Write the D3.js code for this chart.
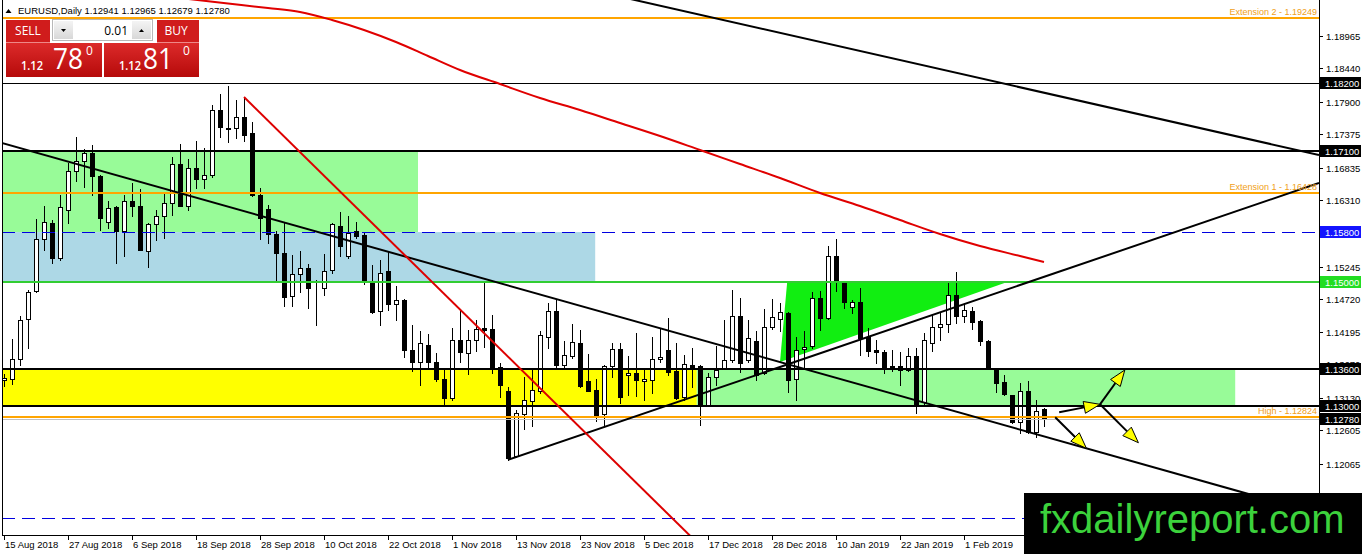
<!DOCTYPE html>
<html><head><meta charset="utf-8">
<script src="https://cdn.jsdelivr.net/npm/d3@7"></script>
<style>
html,body{margin:0;padding:0;background:#fff;overflow:hidden;}
svg{display:block;}
</style></head><body>
<svg id="c" width="1362" height="554"></svg>
<script>
// ---------- DATA ----------
const symbolTitle = "EURUSD,Daily";
const titleQuote = ["1.12941", "1.12965", "1.12679", "1.12780"];
const opens = [1.13420,1.13430,1.13753,1.14397,1.14849,1.15687,1.15945,1.15375,1.16160,1.16777,1.16938,1.17074,1.16696,1.15955,1.16203,1.15810,1.16305,1.16224,1.15488,1.15929,1.16063,1.16268,1.16896,1.16224,1.16831,1.16654,1.16724,1.17772,1.17477,1.17477,1.17654,1.17396,1.16401,1.16171,1.15773,1.15461,1.14773,1.15123,1.15220,1.14897,1.14897,1.15181,1.15890,1.15407,1.15810,1.15757,1.14978,1.14520,1.15170,1.14644,1.14709,1.13903,1.13714,1.13983,1.13698,1.13430,1.13124,1.14064,1.13859,1.14064,1.14246,1.14230,1.13624,1.13231,1.12199,1.12866,1.13070,1.13246,1.14117,1.14531,1.13661,1.13806,1.14011,1.13403,1.13258,1.12866,1.13634,1.13919,1.13500,1.13527,1.13392,1.13419,1.13753,1.13903,1.13553,1.13134,1.13661,1.13634,1.13016,1.13472,1.13607,1.13741,1.14440,1.13741,1.14037,1.13527,1.14278,1.14397,1.14494,1.13430,1.13914,1.13956,1.14736,1.14414,1.15418,1.14978,1.14600,1.14665,1.14117,1.13903,1.13865,1.13618,1.13634,1.13580,1.13795,1.13054,1.14010,1.14268,1.14322,1.14784,1.14451,1.14530,1.14359,1.14048,1.13596,1.13390,1.13177,1.12747,1.13231,1.12576,1.12941];
const highs = [1.13520,1.14075,1.14451,1.14870,1.16010,1.16213,1.16000,1.16401,1.16912,1.17332,1.17138,1.17207,1.16724,1.16294,1.16213,1.16401,1.16590,1.16493,1.15950,1.16160,1.16429,1.17009,1.17224,1.16977,1.17261,1.17154,1.17852,1.18030,1.18159,1.17933,1.17976,1.17567,1.16509,1.16241,1.15810,1.15945,1.15434,1.15488,1.15289,1.15031,1.15450,1.15950,1.16116,1.16063,1.15955,1.15780,1.15273,1.15354,1.15488,1.14934,1.14725,1.14306,1.14198,1.14161,1.13859,1.13580,1.14252,1.14547,1.14225,1.14386,1.14978,1.14467,1.13688,1.13311,1.12935,1.13472,1.13580,1.14198,1.14655,1.14709,1.14037,1.14322,1.14225,1.13838,1.13430,1.13661,1.14011,1.14011,1.13795,1.14172,1.13580,1.14107,1.14252,1.14414,1.14011,1.13822,1.13930,1.13660,1.13527,1.13967,1.14386,1.14859,1.14736,1.14386,1.14198,1.14559,1.14720,1.14655,1.14510,1.14107,1.14198,1.14827,1.14843,1.15568,1.15687,1.15004,1.14709,1.14897,1.14252,1.14064,1.13903,1.13903,1.13875,1.13930,1.13930,1.14172,1.14467,1.14494,1.14988,1.15149,1.14655,1.14591,1.14386,1.14064,1.13607,1.13500,1.13177,1.13375,1.13392,1.13097,1.12965];
const lows = [1.13320,1.13355,1.13650,1.13935,1.14833,1.15515,1.15300,1.15354,1.15945,1.16616,1.16526,1.16401,1.15837,1.15865,1.15300,1.15418,1.16052,1.15504,1.15245,1.15676,1.15703,1.16079,1.16213,1.16159,1.16509,1.16509,1.16687,1.17332,1.17245,1.17315,1.17261,1.16385,1.15687,1.15623,1.15031,1.14612,1.14612,1.14827,1.14575,1.14306,1.14789,1.15139,1.15407,1.15386,1.15708,1.14967,1.14494,1.14306,1.14547,1.14386,1.13785,1.13553,1.13338,1.13624,1.13392,1.13016,1.13086,1.13714,1.13516,1.13891,1.13946,1.13527,1.13150,1.12129,1.12183,1.12624,1.12677,1.13214,1.13930,1.13591,1.13608,1.13769,1.13311,1.13231,1.12763,1.12677,1.13472,1.13043,1.13177,1.13161,1.13097,1.13205,1.13714,1.13500,1.13108,1.13097,1.13311,1.12694,1.12989,1.13338,1.13607,1.13698,1.13537,1.13698,1.13419,1.13516,1.14236,1.14198,1.13230,1.13097,1.13607,1.13930,1.14225,1.14397,1.14843,1.14575,1.14494,1.13822,1.13795,1.13688,1.13527,1.13553,1.13338,1.13553,1.12882,1.13016,1.13891,1.14053,1.14182,1.14333,1.14343,1.14236,1.13983,1.13591,1.13230,1.13177,1.12721,1.12560,1.12560,1.12505,1.12679];
const closes = [1.13450,1.13753,1.14375,1.14838,1.15687,1.15955,1.15381,1.16203,1.16777,1.16938,1.17074,1.16696,1.16026,1.16187,1.15810,1.16294,1.16224,1.15515,1.15934,1.16063,1.16268,1.16896,1.16224,1.16831,1.16654,1.16724,1.17772,1.17493,1.17461,1.17654,1.17369,1.16401,1.16026,1.15773,1.15461,1.14752,1.15123,1.15220,1.14897,1.14902,1.15165,1.15934,1.15579,1.15784,1.15729,1.15031,1.14504,1.15139,1.14644,1.14709,1.13903,1.13714,1.14011,1.13698,1.13430,1.13124,1.14064,1.13875,1.14064,1.14241,1.14220,1.13608,1.13334,1.12157,1.12882,1.13097,1.13258,1.14144,1.14520,1.13661,1.13822,1.14027,1.13327,1.13242,1.12844,1.13634,1.13919,1.13150,1.13527,1.13408,1.13430,1.13753,1.13785,1.13537,1.13124,1.13672,1.13608,1.13016,1.13472,1.13580,1.13741,1.14440,1.13688,1.14091,1.13500,1.14278,1.14429,1.14504,1.13419,1.13903,1.13946,1.14736,1.14414,1.15418,1.15004,1.14665,1.14670,1.14091,1.13891,1.13865,1.13607,1.13645,1.13580,1.13806,1.13016,1.14064,1.14278,1.14316,1.14784,1.14440,1.14547,1.14343,1.14037,1.13607,1.13375,1.13193,1.12747,1.13231,1.12576,1.12924,1.12780];

const xTickBars = [0,8,16,24,32,40,48,56,64,72,80,88,96,104,112,120];
const xTickLabels = ["15 Aug 2018","27 Aug 2018","6 Sep 2018","18 Sep 2018","28 Sep 2018","10 Oct 2018","22 Oct 2018","1 Nov 2018","13 Nov 2018","23 Nov 2018","5 Dec 2018","17 Dec 2018","28 Dec 2018","10 Jan 2019","22 Jan 2019","1 Feb 2019"];
const yTickValues = [1.18965,1.18440,1.17900,1.17375,1.16835,1.16310,1.15245,1.14720,1.14195,1.13670,1.13130,1.12605,1.12065,1.11540];

const levelValues = [1.19249,1.18200,1.17100,1.16428,1.15800,1.15000,1.13600,1.13000,1.12824,1.12780,1.11200];
const levelTexts = ["Extension 2 - 1.19249","1.18200","1.17100","Extension 1 - 1.16428","1.15800","1.15000","1.13600","1.13000","High - 1.12824","1.12780",""];

const zoneFromBars = [-1,-1,-1,86.6];
const zoneToBars = [51.75,73.9,86.6,153.9];
const zoneTopPrices = [1.17100,1.15800,1.13600,1.13600];
const zoneBottomPrices = [1.15800,1.15000,1.13000,1.13000];

const triangleBars = [97.9,97.0,125.5];
const trianglePrices = [1.15000,1.13706,1.15000];

const trendFromBars = [0,80.5,63,30];
const trendFromPrices = [1.17226,1.19492,1.12129,1.17976];
const trendToBars = [130,164.375,164.375,77.4];
const trendToPrices = [1.12507,1.17042,1.16591,1.11966];

const maBars = [22,28,33,37,41,45,49,53,57,62,67,72,77,82,87,92,97,102,107,112,117,122,127,130];
const maValues = [1.19572,1.19484,1.19411,1.19347,1.19218,1.19057,1.18863,1.18638,1.18412,1.18186,1.17961,1.17767,1.17558,1.17348,1.17123,1.16897,1.16671,1.16430,1.16220,1.15994,1.15769,1.15575,1.15414,1.15318];

const arrowFromBars = [131.9,137.0,137.0,131.4];
const arrowFromPrices = [1.12896,1.13024,1.13024,1.12815];
const arrowToBars = [137.0,140.1,141.8,135.3];
const arrowToPrices = [1.13024,1.13577,1.12405,1.12315];

const panelLot = "0.01";
const sellBig = ["1.12","78","0"];
const buyBig = ["1.12","81","0"];
const watermarkText = "fxdailyreport.com";

// ---------- LAYOUT ----------
const plotL = 2, plotR = 1319, plotT = 0, plotB = 535;
const svg = d3.select("#c");
const x = d3.scaleLinear().domain([-0.25, 164.375]).range([plotL, plotR]);
const y = d3.scaleLinear().domain([1.10918, 1.1954]).range([plotB, plotT]);
const AX = "Liberation Sans, Arial, sans-serif";
const px = v => Math.round(v) + 0.5;

svg.append("rect").attr("width",1362).attr("height",554).attr("fill","#fff");
const defs = svg.append("defs");
defs.append("clipPath").attr("id","plot").append("rect")
  .attr("x",plotL).attr("y",plotT).attr("width",plotR-plotL).attr("height",plotB-plotT);
const g = svg.append("g").attr("clip-path","url(#plot)");

// zones
const zoneColors = ["#98fb98","#add8e6","#ffff00","#98fb98"];
g.selectAll("rect.zone").data(zoneFromBars).join("rect").attr("class","zone")
  .attr("x",(d,i)=>x(d)).attr("width",(d,i)=>x(zoneToBars[i])-x(d))
  .attr("y",(d,i)=>y(zoneTopPrices[i])).attr("height",(d,i)=>y(zoneBottomPrices[i])-y(zoneTopPrices[i]))
  .attr("fill",(d,i)=>zoneColors[i]);

// triangle
g.append("path").attr("d", d3.line()(triangleBars.map((b,i)=>[x(b),y(trianglePrices[i])])) + "Z")
  .attr("fill","#11ee11");

// candles
const idx = d3.range(opens.length);
const cg = g.append("g");
cg.selectAll("line.wick").data(idx).join("line")
  .attr("x1",i=>px(x(i))).attr("x2",i=>px(x(i)))
  .attr("y1",i=>Math.round(y(highs[i]))).attr("y2",i=>Math.round(y(lows[i]))+1)
  .attr("stroke","#000").attr("stroke-width",1);
cg.selectAll("rect.body").data(idx).join("rect")
  .attr("x",i=>px(x(i))-2).attr("width",4)
  .attr("y",i=>px(y(Math.max(opens[i],closes[i]))))
  .attr("height",i=>Math.max(0, Math.round(y(Math.min(opens[i],closes[i]))) - Math.round(y(Math.max(opens[i],closes[i])))))
  .attr("fill",i=>closes[i]>=opens[i]?"#fff":"#000")
  .attr("stroke","#000").attr("stroke-width",1);

// horizontal levels
const levelColors = ["#ffa500","#000","#000","#ffa500","#0000e0","#32cd32","#000","#000","#ffa500","#c0c0c0","#0000e0"];
const levelWidths = [2,1,2,2,1,2,2,2,2,1,1];
const levelDash = [null,null,null,null,"13,7",null,null,null,null,null,"13,7"];
levelValues.forEach((v,i)=>{
  const yy = levelWidths[i]===1 ? px(y(v)) : Math.round(y(v));
  g.append("line").attr("x1",plotL).attr("x2",plotR).attr("y1",yy).attr("y2",yy)
    .attr("stroke",levelColors[i]).attr("stroke-width",levelWidths[i])
    .attr("stroke-dasharray",levelDash[i]);
});

// trend lines
const trendColors = ["#000","#000","#000","#dd0000"];
const trendExtL = [true,true,false,false];
trendFromBars.forEach((b,i)=>{
  const x1=x(b), y1=y(trendFromPrices[i]), x2=x(trendToBars[i]), y2=y(trendToPrices[i]);
  const m=(y2-y1)/(x2-x1);
  const sx = trendExtL[i] ? plotL-20 : x1;
  const ex = plotR;
  g.append("line").attr("x1",sx).attr("y1",y1+m*(sx-x1)).attr("x2",ex).attr("y2",y1+m*(ex-x1))
    .attr("stroke",trendColors[i]).attr("stroke-width",2);
});

// moving average
g.append("path").datum(maBars.map((b,i)=>[x(b),y(maValues[i])]))
  .attr("d", d3.line().curve(d3.curveMonotoneX))
  .attr("fill","none").attr("stroke","#e00000").attr("stroke-width",2);

// arrows
arrowFromBars.forEach((b,i)=>{
  const x1=x(b), y1=y(arrowFromPrices[i]), x2=x(arrowToBars[i]), y2=y(arrowToPrices[i]);
  const dx=x2-x1, dy=y2-y1, L=Math.hypot(dx,dy), ux=dx/L, uy=dy/L;
  const hl=16, hw=6, bx=x2-ux*hl, by=y2-uy*hl;
  g.append("line").attr("x1",x1).attr("y1",y1).attr("x2",bx).attr("y2",by)
    .attr("stroke","#000").attr("stroke-width",2);
  g.append("polygon").attr("points",[[x2,y2],[bx-uy*hw,by+ux*hw],[bx+uy*hw,by-ux*hw]].map(p=>p.join(",")).join(" "))
    .attr("fill","#ffff00").attr("stroke","#000").attr("stroke-width",1);
});

// level text labels (inside plot, right aligned)
[0,3,8].forEach(i=>{
  svg.append("text").attr("x",plotR-2).attr("y",y(levelValues[i])-3)
    .attr("text-anchor","end").attr("font-family",AX).attr("font-size",9)
    .attr("fill","#f0a020").text(levelTexts[i]);
});

// frame / axes
svg.append("line").attr("x1",px(plotL)).attr("x2",px(plotL)).attr("y1",0).attr("y2",plotB).attr("stroke","#000");
svg.append("line").attr("x1",px(plotR)).attr("x2",px(plotR)).attr("y1",0).attr("y2",plotB+1).attr("stroke","#000");
svg.append("line").attr("x1",plotL).attr("x2",plotR+1).attr("y1",px(plotB)).attr("y2",px(plotB)).attr("stroke","#000");

// y ticks
const yt = svg.append("g");
yTickValues.forEach(v=>{
  const yy = px(y(v));
  yt.append("line").attr("x1",plotR).attr("x2",plotR+4).attr("y1",yy).attr("y2",yy).attr("stroke","#000");
  yt.append("text").attr("x",plotR+7).attr("y",yy+3.5).attr("font-family",AX).attr("font-size",9.5)
    .attr("fill","#000").text(v.toFixed(5));
});
// level boxes on axis
const boxColors = {1:"#000",2:"#000",4:"#1414ff",5:"#22dd22",6:"#000",7:"#000",9:"#000"};
Object.keys(boxColors).forEach(k=>{
  const i=+k, yy=Math.round(y(levelValues[i]));
  svg.append("rect").attr("x",plotR+1).attr("y",yy-6).attr("width",1362-plotR-2).attr("height",12).attr("fill",boxColors[k]);
  svg.append("text").attr("x",plotR+6).attr("y",yy+3.5).attr("font-family",AX).attr("font-size",9.5)
    .attr("fill","#fff").text(levelTexts[i]);
});

// x ticks
const xt = svg.append("g");
xTickBars.forEach((b,i)=>{
  const xx = px(x(b));
  xt.append("line").attr("x1",xx).attr("x2",xx).attr("y1",plotB).attr("y2",plotB+5).attr("stroke","#000");
  xt.append("text").attr("x",xx+0.5).attr("y",plotB+13).attr("font-family",AX).attr("font-size",9.5)
    .attr("fill","#000").text(xTickLabels[i]);
});

// title
svg.append("path").attr("d","M5.5,13 L8.5,9 L11.5,13 Z").attr("fill","#000");
svg.append("text").attr("x",18).attr("y",14).attr("font-family",AX).attr("font-size",9.5).attr("fill","#000")
  .text(symbolTitle + "  " + titleQuote.join(" "));

// trade panel
const PF = "Open Sans, Noto Sans, sans-serif";
const grad = defs.append("linearGradient").attr("id","red").attr("x1",0).attr("x2",0).attr("y1",0).attr("y2",1);
grad.append("stop").attr("offset","0%").attr("stop-color","#dc2a2a");
grad.append("stop").attr("offset","100%").attr("stop-color","#b60a0a");
const grad2 = defs.append("linearGradient").attr("id","gray").attr("x1",0).attr("x2",0).attr("y1",0).attr("y2",1);
grad2.append("stop").attr("offset","0%").attr("stop-color","#f4f4f4");
grad2.append("stop").attr("offset","100%").attr("stop-color","#d8d8d8");
const pn = svg.append("g");
pn.append("rect").attr("x",5).attr("y",19).attr("width",196).attr("height",58).attr("fill","#fff");
pn.append("rect").attr("x",6).attr("y",20).attr("width",44).attr("height",22).attr("fill","#d01c1c");
pn.append("rect").attr("x",157).attr("y",20).attr("width",42).attr("height",22).attr("fill","#d01c1c");
pn.append("text").attr("x",28).attr("y",35).attr("text-anchor","middle").attr("font-family",PF).attr("font-size",12).attr("fill","#fff").text("SELL");
pn.append("text").attr("x",176).attr("y",35).attr("text-anchor","middle").attr("font-family",PF).attr("font-size",12).attr("fill","#fff").text("BUY");
pn.append("rect").attr("x",52.5).attr("y",19.5).attr("width",100).attr("height",21).attr("fill","#fff").attr("stroke","#b8b8b8");
pn.append("rect").attr("x",54).attr("y",21).attr("width",19).attr("height",18).attr("fill","url(#gray)");
pn.append("rect").attr("x",132).attr("y",21).attr("width",19).attr("height",18).attr("fill","url(#gray)");
pn.append("path").attr("d","M61,29 L66,29 L63.5,32 Z").attr("fill","#000");
pn.append("path").attr("d","M139,32 L144,32 L141.5,29 Z").attr("fill","#000");
pn.append("text").attr("x",128).attr("y",35).attr("text-anchor","end").attr("font-family",PF).attr("font-size",12).attr("fill","#000").text(panelLot);
pn.append("rect").attr("x",6).attr("y",43).attr("width",96).attr("height",34).attr("fill","url(#red)");
pn.append("rect").attr("x",104).attr("y",43).attr("width",95).attr("height",34).attr("fill","url(#red)");
pn.append("line").attr("x1",6).attr("x2",50).attr("y1",42.5).attr("y2",42.5).attr("stroke","#e88");
pn.append("line").attr("x1",157).attr("x2",199).attr("y1",42.5).attr("y2",42.5).attr("stroke","#e88");
[[sellBig,21,53,86],[buyBig,119,143,183]].forEach(([t,a,b,c])=>{
  pn.append("text").attr("x",a).attr("y",70).attr("font-family",PF).attr("font-size",13).attr("font-weight",600)
    .attr("textLength",22).attr("lengthAdjust","spacingAndGlyphs").attr("fill","#fff").text(t[0]);
  pn.append("text").attr("x",b).attr("y",68.5).attr("font-family",PF).attr("font-size",30)
    .attr("textLength",30).attr("lengthAdjust","spacingAndGlyphs").attr("fill","#fff").text(t[1]);
  pn.append("text").attr("x",c).attr("y",55).attr("font-family",PF).attr("font-size",12).attr("fill","#fff").text(t[2]);
});

// watermark
svg.append("rect").attr("x",1024).attr("y",493).attr("width",338).attr("height",61).attr("fill","#000");
svg.append("text").attr("x",1040).attr("y",533).attr("font-family",AX).attr("font-size",40).attr("fill","#3cd23c").text(watermarkText);
</script>
</body></html>
